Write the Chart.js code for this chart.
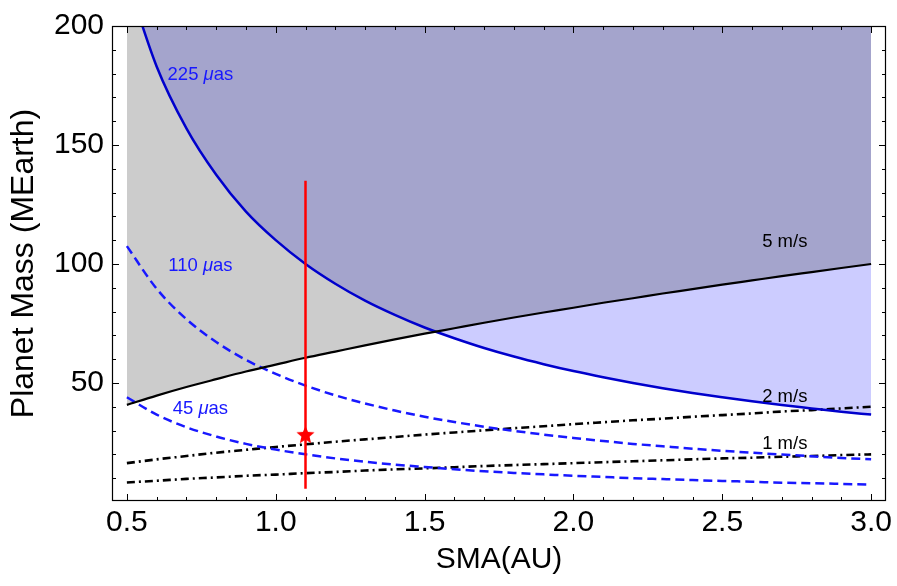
<!DOCTYPE html>
<html>
<head>
<meta charset="utf-8">
<title>Planet mass vs SMA</title>
<script src="https://cdn.jsdelivr.net/npm/chart.js@4.4.1/dist/chart.umd.min.js"></script>
<style>
  html, body { margin: 0; padding: 0; background: #fff; }
  #wrap { width: 897px; height: 586px; }
</style>
</head>
<body>
<div id="wrap"><canvas id="massChart" width="897" height="586"></canvas></div>
<script>
// ---- data ----
const sma = [0.5, 0.6, 0.7, 0.8, 0.9, 1.0, 1.1, 1.2, 1.3, 1.4, 1.5, 1.6, 1.7,
             1.8, 1.9, 2.0, 2.1, 2.2, 2.3, 2.4, 2.5, 2.6, 2.7, 2.8, 2.9, 3.0];

// astrometric signal curves (uas)
const mass225 = [220, 183, 157, 137.5, 122, 110, 100, 91.7, 84.6, 78.6, 73.3, 68.8, 64.7,
                 61.1, 57.9, 55, 52.4, 50, 47.8, 45.8, 44, 42.3, 40.7, 39.3, 37.9, 36.7];
const mass110 = [107.5, 89.6, 76.8, 67.2, 59.7, 53.8, 48.9, 44.8, 41.4, 38.4, 35.8, 33.6, 31.6,
                 29.9, 28.3, 26.9, 25.6, 24.4, 23.4, 22.4, 21.5, 20.7, 19.9, 19.2, 18.5, 17.9];
const mass45  = [44, 36.7, 31.4, 27.5, 24.4, 22, 20, 18.3, 16.9, 15.7, 14.7, 13.75, 12.9,
                 12.2, 11.6, 11, 10.5, 10, 9.6, 9.2, 8.8, 8.5, 8.1, 7.9, 7.6, 7.3];

// radial velocity curves (m/s)
const massRv5 = [40.8, 44.7, 48.3, 51.6, 54.8, 57.7, 60.6, 63.2, 65.8, 68.3, 70.7, 73.0, 75.3,
                 77.5, 79.6, 81.6, 83.7, 85.6, 87.6, 89.4, 91.3, 93.1, 94.9, 96.6, 98.3, 100];
const massRv2 = [16.3, 17.9, 19.3, 20.7, 21.9, 23.1, 24.2, 25.3, 26.3, 27.3, 28.3, 29.2, 30.1,
                 31.0, 31.8, 32.7, 33.5, 34.3, 35.0, 35.8, 36.5, 37.2, 38.0, 38.6, 39.3, 40.0];
const massRv1 = [8.2, 8.9, 9.7, 10.3, 11.0, 11.5, 12.1, 12.6, 13.2, 13.7, 14.1, 14.6, 15.1,
                 15.5, 15.9, 16.3, 16.7, 17.1, 17.5, 17.9, 18.3, 18.6, 19.0, 19.3, 19.7, 20.0];

// the planet: position and mass range
const planetSma = [1.1];
const planetMass = [28];
const planetMassRange = [5.5, 135];

// curve labels
const labelText = ["225 \u03bcas", "110 \u03bcas", "45 \u03bcas", "5 m/s", "2 m/s", "1 m/s"];
const labelSma  = [0.747, 0.747, 0.747, 2.71, 2.71, 2.71];
const labelMass = [179.6, 99.2, 39.2, 109.2, 44.3, 24.2];

// axes
const xTicks = [0.5, 1.0, 1.5, 2.0, 2.5, 3.0];
const yTicks = [50, 100, 150, 200];
const xMinorTicks = [0.5, 0.6, 0.7, 0.8, 0.9, 1.0, 1.1, 1.2, 1.3, 1.4, 1.5, 1.6, 1.7,
                     1.8, 1.9, 2.0, 2.1, 2.2, 2.3, 2.4, 2.5, 2.6, 2.7, 2.8, 2.9, 3.0];
const yMinorTicks = [10, 20, 30, 40, 50, 60, 70, 80, 90, 100, 110, 120, 130, 140, 150,
                     160, 170, 180, 190, 200];

// ---- styles ----
const FONT = "'Liberation Sans', Arial, Helvetica, sans-serif";
const DARK_BLUE = "#0000cc";
const BLUE = "#1818ff";
const labelColor = [BLUE, BLUE, BLUE, "#000", "#000", "#000"];

Chart.defaults.font.family = FONT;
Chart.defaults.color = "#000";

const pts = ys => sma.map((x, i) => ({ x: x, y: ys[i] }));

// filled red five-point star for the planet marker
function makeStar(r, color) {
  const size = Math.ceil(r * 2 + 2);
  const c = document.createElement("canvas");
  c.width = c.height = size;
  const g = c.getContext("2d");
  g.translate(size / 2, size / 2);
  g.beginPath();
  for (let i = 0; i < 10; i++) {
    const rad = i % 2 ? r * 0.45 : r;
    const a = -Math.PI / 2 + i * Math.PI / 5;
    g.lineTo(rad * Math.cos(a), rad * Math.sin(a));
  }
  g.closePath();
  g.fillStyle = color;
  g.fill();
  return c;
}

/* ----------------------------------------------------------
   frame with inward ticks + curve labels
---------------------------------------------------------- */
const near = (list, v) => list.some(t => Math.abs(t - v) < 1e-6);

const frameAndLabels = {
  id: "frameAndLabels",
  afterDatasetsDraw(chart) {
    const { ctx, chartArea: a, scales: { x, y } } = chart;
    ctx.save();
    ctx.strokeStyle = "#000";
    ctx.lineWidth = 1.2;
    ctx.strokeRect(a.left + 0.5, a.top + 0.5, a.right - a.left - 1, a.bottom - a.top - 1);

    ctx.beginPath();
    xMinorTicks.forEach(v => {
      const px = Math.round(x.getPixelForValue(v)) + 0.5;
      const len = near(xTicks, v) ? 7 : 4;
      ctx.moveTo(px, a.bottom); ctx.lineTo(px, a.bottom - len);
      ctx.moveTo(px, a.top); ctx.lineTo(px, a.top + len);
    });
    yMinorTicks.forEach(v => {
      const py = Math.round(y.getPixelForValue(v)) + 0.5;
      const len = near(yTicks, v) ? 7 : 4;
      ctx.moveTo(a.left, py); ctx.lineTo(a.left + len, py);
      ctx.moveTo(a.right, py); ctx.lineTo(a.right - len, py);
    });
    ctx.lineWidth = 1;
    ctx.stroke();

    // labels, the mu is italic
    ctx.textBaseline = "middle";
    ctx.textAlign = "left";
    labelText.forEach((txt, i) => {
      const parts = txt.split("\u03bc");
      const pieces = parts.length > 1
        ? [[parts[0], "normal"], ["\u03bc", "italic"], [parts[1], "normal"]]
        : [[txt, "normal"]];
      let w = 0;
      pieces.forEach(p => { ctx.font = p[1] + " 18.5px " + FONT; w += ctx.measureText(p[0]).width; });
      let cx = x.getPixelForValue(labelSma[i]) - w / 2;
      const cy = y.getPixelForValue(labelMass[i]);
      ctx.fillStyle = labelColor[i];
      pieces.forEach(p => {
        ctx.font = p[1] + " 18.5px " + FONT;
        ctx.fillText(p[0], cx, cy);
        cx += ctx.measureText(p[0]).width;
      });
    });
    ctx.restore();
  }
};

const lineBase = { pointRadius: 0, cubicInterpolationMode: "monotone", fill: false };

new Chart(document.getElementById("massChart"), {
  type: "line",
  data: {
    datasets: [
      { ...lineBase, label: "5 m/s", data: pts(massRv5), borderColor: "#000", borderWidth: 2.2,
        fill: "end", backgroundColor: "rgba(0,0,0,0.2)", order: 2 },
      { ...lineBase, label: "225 uas", data: pts(mass225), borderColor: DARK_BLUE, borderWidth: 2.5,
        fill: "end", backgroundColor: "rgba(0,0,255,0.2)", order: 3 },
      { ...lineBase, label: "110 uas", data: pts(mass110), borderColor: BLUE, borderWidth: 2.5,
        borderDash: [9, 5], order: 4 },
      { ...lineBase, label: "45 uas", data: pts(mass45), borderColor: BLUE, borderWidth: 2.5,
        borderDash: [9, 5], order: 4 },
      { ...lineBase, label: "2 m/s", data: pts(massRv2), borderColor: "#000", borderWidth: 2.6,
        borderDash: [8, 4, 2, 4], order: 4 },
      { ...lineBase, label: "1 m/s", data: pts(massRv1), borderColor: "#000", borderWidth: 2.6,
        borderDash: [8, 4, 2, 4], order: 4 },
      { ...lineBase, label: "mass range",
        data: planetMassRange.map(m => ({ x: planetSma[0], y: m })),
        borderColor: "#ff0000", borderWidth: 2.5, order: 1 },
      { type: "scatter", label: "planet",
        data: planetSma.map((x, i) => ({ x: x, y: planetMass[i] })),
        pointStyle: makeStar(9.5, "#ff0000"), pointRadius: 10, order: 0 }
    ]
  },
  options: {
    responsive: false,
    animation: false,
    devicePixelRatio: 1,
    layout: { padding: { top: 22, right: 10, left: 0, bottom: 0 } },
    plugins: {
      legend: { display: false },
      tooltip: { enabled: false },
      filler: { drawTime: "beforeDatasetsDraw" }
    },
    scales: {
      x: {
        type: "linear", min: 0.45, max: 3.05,
        afterBuildTicks: s => { s.ticks = xTicks.map(v => ({ value: v })); },
        afterFit: s => { s.height = 85; },
        grid: { display: false, drawTicks: false },
        border: { display: false },
        ticks: { font: { size: 30 }, color: "#000", padding: 4, maxRotation: 0, autoSkip: false,
                 callback: v => v.toFixed(1) },
        title: { display: true, text: "SMA(AU)", font: { size: 30 }, color: "#000", padding: 8 }
      },
      y: {
        type: "linear", min: 0.4, max: 200,
        afterBuildTicks: s => { s.ticks = yTicks.map(v => ({ value: v })); },
        afterFit: s => { s.width = 112; },
        grid: { display: false, drawTicks: false },
        border: { display: false },
        ticks: { font: { size: 30 }, color: "#000", padding: 8, autoSkip: false,
                 callback: v => String(v) },
        title: { display: true, text: "Planet Mass (MEarth)", font: { size: 32 }, color: "#000", padding: 5 }
      }
    }
  },
  plugins: [frameAndLabels]
});
</script>
</body>
</html>
